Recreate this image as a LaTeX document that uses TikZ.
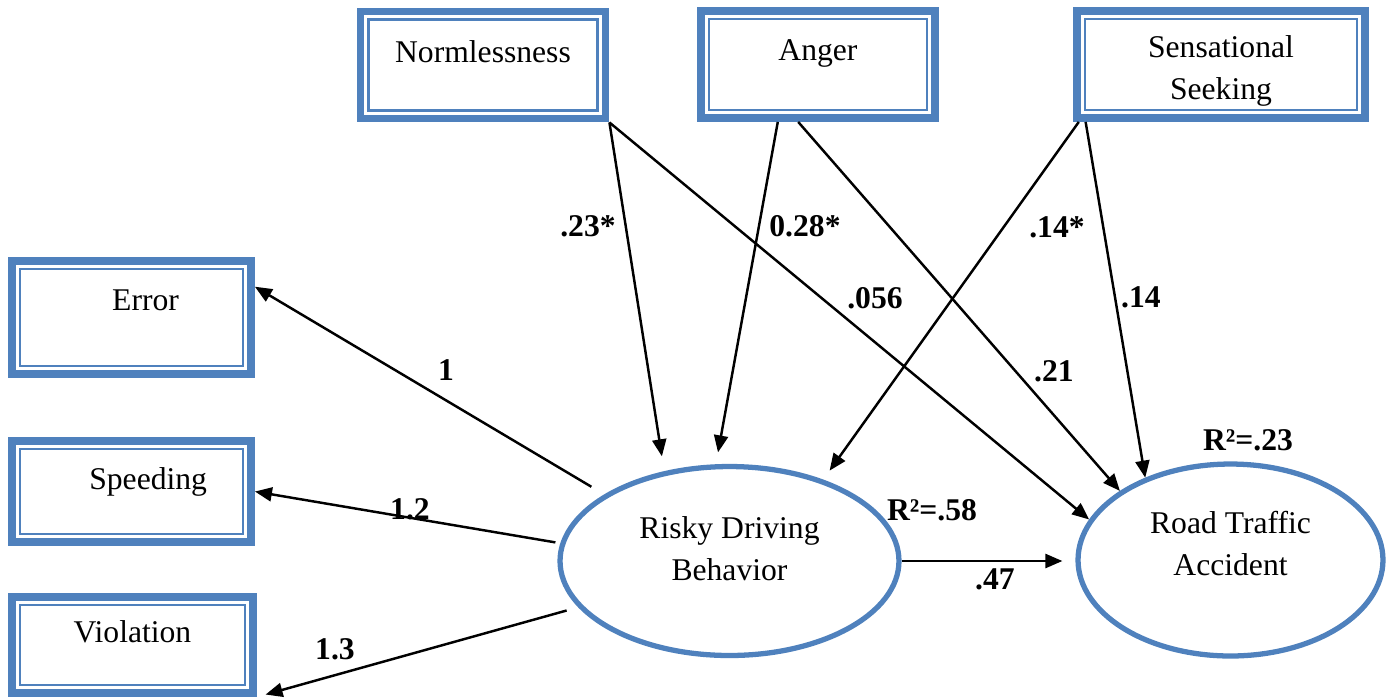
\documentclass[tikz,border=0pt]{standalone}
\usepackage{fontspec}
\setmainfont{Liberation Serif}
\usetikzlibrary{arrows.meta}
\usetikzlibrary{shapes.geometric}
\definecolor{boxblue}{RGB}{79,129,189}
\tikzset{>={Triangle[length=0.34cm,width=0.28cm]}}
\tikzset{
  varbox/.style={draw=boxblue, line width=4.5pt, minimum width=#1, minimum height=2.14cm,
    font=\fontsize{18}{24}\selectfont, text height=12pt, text depth=15pt,
    path picture={\draw[boxblue, line width=1.5pt]
      ([shift={(0.16cm,-0.16cm)}]path picture bounding box.north west) rectangle
      ([shift={(-0.16cm,0.16cm)}]path picture bounding box.south east);}},
  latent/.style={ellipse, draw=boxblue, line width=3pt, align=center,
    font=\fontsize{18}{24}\selectfont, text height=36pt},
  effect/.style={->, line width=1.4pt},
  coef/.style={inner sep=0pt, font=\fontsize{18}{24}\selectfont\bfseries}
}
\begin{document}
\begin{tikzpicture}[x=0.02cm, y=-0.02cm]
\useasboundingbox (0,0) rectangle (1393,698);
% predictors
\node[varbox=4.9cm] (norm) at (483,65) {Normlessness};
\node[varbox=4.68cm, text depth=17pt] (anger) at (818,64.5) {Anger};
\node[varbox=5.76cm, align=center, text height=44pt, text depth=3.6pt] (sens) at (1221,64.5) {Sensational\\Seeking};
% indicators
\node[varbox=4.78cm, minimum height=2.26cm, text depth=20.5pt] (error) at (131.5,317.5) {\hspace*{16pt}Error};
\node[varbox=4.78cm, minimum height=2.02cm, text depth=14.8pt] (speed) at (131.5,491.5) {\hspace*{19pt}Speeding};
\node[varbox=4.82cm, minimum height=1.92cm, text depth=14.3pt] (viol) at (132.5,645) {Violation};
% latent variables
\node[latent, minimum width=6.78cm, minimum height=3.78cm, text depth=14pt] (rdb) at (729.5,561) {Risky Driving\\Behavior};
\node[latent, minimum width=6.1cm, minimum height=3.84cm, text depth=18pt] (rta) at (1230.5,560) {Road Traffic\\Accident};

\draw[effect, shorten >=0.3cm] (norm.south east) -- (rdb.126);
\draw[effect] (norm.south east) -- (rta.164);
\draw[effect, shorten >=0.24cm] (anger.235) -- (rdb.98);
\draw[effect] (anger.251) -- (rta.148);
\draw[effect, shorten >=0.22cm] (sens.202) -- (rdb.41);
\draw[effect] (sens.203) -- (rta.136);
\draw[effect, shorten <=0.3cm] (rdb.152) -- (error.14);
\draw[effect, shorten <=0.1cm] (rdb.174) -- (speed.east);
\draw[effect, shorten <=0.24cm, shorten >=0.18cm] (rdb.197) -- (viol.south east);
\draw[effect, shorten >=0.26cm] (rdb.east) -- (rdb.east -| rta.west);

% path coefficients
\node[coef] (b-norm-rdb) at (588,226) {.23*};
\node[coef] (b-anger-rdb) at (805,226) {0.28*};
\node[coef] (b-norm-rta) at (875,298) {.056};
\node[coef] (b-sens-rdb) at (1057,227) {.14*};
\node[coef] (b-sens-rta) at (1141,297) {.14};
\node[coef] (b-anger-rta) at (1054,371) {.21};
\node[coef] (b-error) at (446,370) {1};
\node[coef] (b-speed) at (410,509) {1.2};
\node[coef] (b-viol) at (335,649) {1.3};
\node[coef] (b-rdb-rta) at (995,579) {.47};
\node[coef] (r2-rdb) at (932,510) {R²=.58};
\node[coef] (r2-rta) at (1248,440) {R²=.23};
\end{tikzpicture}
\end{document}
